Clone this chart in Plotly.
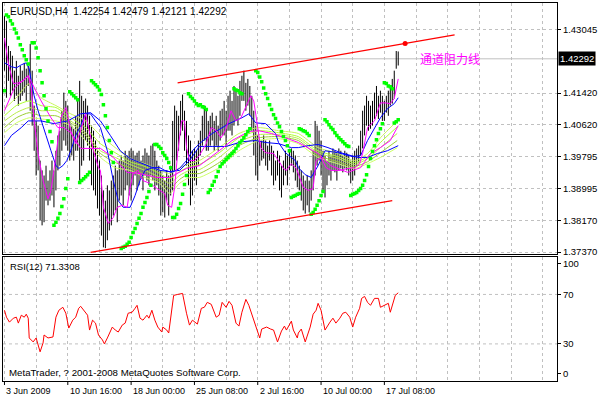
import plotly.graph_objects as go

# ---------------- data ----------------
# H4 bars, index 0..199 (3 Jun 2009 ... 17 Jul 2009)
bar_high = [
1.4338,1.4326,1.4262,1.4249,1.4237,1.4199,1.4224,1.4186,1.4211,1.4199,
1.4219,1.4204,1.4211,1.4267,1.4199,1.4110,1.4071,1.4059,1.3970,1.3945,
1.3932,1.3957,1.3919,1.3945,1.3970,1.3945,1.3995,1.4034,1.4046,1.4097,
1.4143,1.4122,1.4110,1.4071,1.4059,1.4051,1.4084,1.4122,1.4173,1.4135,
1.4122,1.4128,1.4110,1.4084,1.4059,1.4046,1.4021,1.3995,1.3970,1.3932,
1.3894,1.3868,1.3907,1.3894,1.3919,1.3932,1.3957,1.3945,1.3970,1.3983,
1.3970,1.3995,1.3983,1.3995,1.4001,1.3995,1.3983,1.3990,1.3995,1.3970,
1.3983,1.4001,1.3990,1.3983,1.4008,1.4013,1.3995,1.3970,1.3957,1.3945,
1.3932,1.3919,1.3945,1.3932,1.3957,1.4071,1.4110,1.4097,1.4084,1.4122,
1.4138,1.4097,1.4071,1.4034,1.4021,1.3995,1.4001,1.3995,1.4021,1.4046,
1.4084,1.4110,1.4097,1.4071,1.4084,1.4092,1.4071,1.4084,1.4059,1.4097,
1.4102,1.4122,1.4097,1.4135,1.4148,1.4122,1.4160,1.4148,1.4135,1.4173,
1.4186,1.4199,1.4168,1.4178,1.4160,1.4135,1.4097,1.4059,1.4034,1.4021,
1.4021,1.4034,1.4021,1.4008,1.4021,1.4008,1.3995,1.3970,1.3995,1.3983,
1.3957,1.3970,1.3995,1.3983,1.3995,1.4001,1.3995,1.3983,1.3970,1.3957,
1.3945,1.3932,1.3919,1.3932,1.3919,1.3945,1.3995,1.4071,1.4059,1.4046,
1.4021,1.3995,1.3983,1.3970,1.3995,1.3983,1.4001,1.3995,1.3990,1.4001,
1.3995,1.3983,1.3995,1.3990,1.3983,1.3970,1.3983,1.3995,1.4001,1.4008,
1.4046,1.4097,1.4110,1.4135,1.4122,1.4110,1.4122,1.4143,1.4160,1.4135,
1.4148,1.4135,1.4122,1.4135,1.4148,1.4160,1.4178,1.4199,1.4249,1.42479]
bar_low = [
1.4199,1.4130,1.4173,1.4135,1.4148,1.4122,1.4135,1.4110,1.4122,1.4135,
1.4143,1.4122,1.4160,1.4097,1.4059,1.3995,1.3932,1.3945,1.3818,1.3805,
1.3813,1.3868,1.3856,1.3868,1.3881,1.3851,1.3894,1.3945,1.3957,1.3995,
1.4021,1.4008,1.3995,1.3970,1.3983,1.3970,1.3995,1.3995,1.3919,1.3957,
1.3970,1.4021,1.4008,1.3970,1.3907,1.3894,1.3881,1.3848,1.3830,1.3779,
1.3749,1.3747,1.3767,1.3792,1.3805,1.3830,1.3843,1.3813,1.3868,1.3881,
1.3856,1.3894,1.3907,1.3881,1.3868,1.3907,1.3932,1.3894,1.3907,1.3924,
1.3894,1.3932,1.3919,1.3907,1.3932,1.3919,1.3894,1.3907,1.3881,1.3830,
1.3838,1.3825,1.3868,1.3830,1.3881,1.3894,1.3945,1.3970,1.3995,1.4034,
1.4046,1.3995,1.3957,1.3907,1.3856,1.3881,1.3919,1.3907,1.3957,1.3983,
1.4008,1.4021,1.3995,1.3995,1.4008,1.4021,1.3995,1.4008,1.3995,1.4021,
1.4034,1.4034,1.4008,1.4046,1.4046,1.4034,1.4059,1.4071,1.4059,1.4084,
1.4122,1.4122,1.4097,1.4110,1.4084,1.4046,1.3983,1.3932,1.3919,1.3957,
1.3970,1.3975,1.3957,1.3945,1.3970,1.3932,1.3907,1.3919,1.3932,1.3894,
1.3876,1.3907,1.3932,1.3907,1.3945,1.3957,1.3940,1.3919,1.3902,1.3894,
1.3868,1.3843,1.3835,1.3856,1.3838,1.3868,1.3894,1.3932,1.3957,1.3970,
1.3932,1.3894,1.3876,1.3907,1.3932,1.3919,1.3945,1.3940,1.3919,1.3945,
1.3950,1.3940,1.3950,1.3945,1.3932,1.3912,1.3919,1.3932,1.3957,1.3965,
1.3983,1.4001,1.4034,1.4059,1.4046,1.4051,1.4059,1.4076,1.4084,1.4076,
1.4092,1.4071,1.4071,1.4092,1.4084,1.4110,1.4115,1.4128,1.4204,1.42121]

# slow moving averages (yellow-green bundle)
g_idx = [0,6,12.5,18.5,26,33.5,41,48.5,56,63.5,71,78.5,83.5,88.5,93.5,98.5,108.5,118.5,128.5,138.5,148.5,158.5,168.5,177,183.5,190,198.5]
g1 = [1.4102,1.4130,1.4166,1.4130,1.4110,1.4089,1.4071,1.4034,1.4003,1.3975,1.3962,1.3945,1.3937,1.3952,1.3962,1.3970,1.4003,1.4039,1.4054,1.4046,1.4039,1.4003,1.3988,1.3970,1.3988,1.4028,1.4071]
g2 = [1.4084,1.4110,1.4122,1.4110,1.4105,1.4079,1.4054,1.4013,1.3990,1.3967,1.3955,1.3937,1.3924,1.3942,1.3955,1.3960,1.3990,1.4028,1.4046,1.4041,1.4031,1.3995,1.3980,1.3965,1.3980,1.4016,1.4056]
g3 = [1.4071,1.4092,1.4105,1.4097,1.4097,1.4071,1.4041,1.3995,1.3978,1.3960,1.3945,1.3927,1.3912,1.3932,1.3945,1.3947,1.3978,1.4018,1.4036,1.4036,1.4026,1.3990,1.3975,1.3960,1.3975,1.4003,1.4039]
g4 = [1.4054,1.4079,1.4092,1.4084,1.4084,1.4066,1.4034,1.3988,1.3965,1.3952,1.3935,1.3919,1.3899,1.3922,1.3937,1.3937,1.3965,1.4008,1.4028,1.4031,1.4021,1.3983,1.3967,1.3955,1.3967,1.3990,1.4021]
g5 = [1.4041,1.4066,1.4079,1.4076,1.4071,1.4059,1.4021,1.3978,1.3952,1.3945,1.3927,1.3912,1.3886,1.3912,1.3927,1.3927,1.3952,1.3995,1.4021,1.4026,1.4013,1.3978,1.3962,1.3950,1.3962,1.3978,1.4003]

# fast blue MA
b1_idx = [0,3.5,6,8.5,11,12.5,13.5,15,17,18.5,21,23.5,26,27.5,29.5,31.5,33.5,36,38.5,41,43.5,46,48.5,52,55,57.5,60,63.5,66,68.5,71,75,78.5,81,84.5,88.5,92,95,98.5,105,113.5,120,123.5,127,132,137,138.5,142,147,148.5,152,155,158.5,162,168.5,176,180,183.5,187,190,193.5,197,199]
b1 = [1.4219,1.4209,1.4206,1.4214,1.4219,1.4204,1.4173,1.4135,1.4097,1.4071,1.4034,1.3995,1.3957,1.3950,1.3957,1.3970,1.3995,1.4034,1.4059,1.4089,1.4089,1.4071,1.4054,1.3995,1.3919,1.3868,1.3851,1.3851,1.3881,1.3919,1.3945,1.3952,1.3952,1.3945,1.3940,1.3950,1.3970,1.3995,1.4013,1.4039,1.4064,1.4079,1.4089,1.4066,1.4064,1.4039,1.4016,1.3990,1.3970,1.3952,1.3934,1.3927,1.3957,1.3995,1.3990,1.3980,1.3983,1.4021,1.4054,1.4079,1.4102,1.4115,1.4130]
# slow blue MA
b2_idx = [0,3.5,8.5,12,18.5,25,32,38.5,43.5,48.5,53.5,58.5,63.5,68.5,73.5,78.5,83.5,88.5,93.5,98.5,105,112,120,127,132,138.5,145,148.5,153.5,158.5,163.5,170,178.5,183.5,188.5,193.5,199]
b2 = [1.4008,1.4034,1.4054,1.4071,1.4071,1.4064,1.4071,1.4089,1.4092,1.4071,1.4034,1.3995,1.3975,1.3965,1.3955,1.3945,1.3942,1.3945,1.3970,1.4006,1.4006,1.4006,1.4018,1.4021,1.4016,1.4013,1.4003,1.4003,1.4008,1.4011,1.4003,1.3990,1.3978,1.3978,1.3988,1.3995,1.4008]
# fast magenta MA
m1_idx = [0,2,4.5,7,9.5,12,13.5,15,17,19.5,22,23.5,25,27,28.5,31,33.5,36,38.5,41,42.5,45,47.5,48.5,50,52.5,55,57,59.5,62,63.5,65,67.5,70,73.5,76,78.5,81,82.5,84.5,86,87.5,89.5,91,92,93.5,96,98.5,102,104.5,107,109.5,112,114.5,117,119.5,122,124.5,126,127.5,129.5,132,134.5,136,138.5,141,142.5,145,147.5,148.5,151,153.5,156,157.5,160,162.5,165,170,173.5,177,179.5,181,183.5,187,190,192.5,195,197,199]
m1 = [1.4282,1.4216,1.4166,1.4168,1.4173,1.4186,1.4155,1.4071,1.3988,1.3919,1.3873,1.3894,1.3945,1.4028,1.4079,1.4105,1.4046,1.4013,1.4046,1.4089,1.4054,1.3995,1.3952,1.3945,1.3851,1.3810,1.3825,1.3851,1.3856,1.3851,1.3902,1.3937,1.3945,1.3919,1.3912,1.3902,1.3894,1.3886,1.3856,1.3851,1.3902,1.3988,1.4071,1.4071,1.4003,1.3970,1.3970,1.3983,1.4013,1.4054,1.4046,1.4028,1.4051,1.4097,1.4071,1.4079,1.4105,1.4135,1.4122,1.4071,1.4003,1.3990,1.3988,1.3988,1.3970,1.3950,1.3945,1.3962,1.3950,1.3937,1.3902,1.3894,1.3899,1.3970,1.3978,1.3952,1.3945,1.3945,1.3950,1.3952,1.3962,1.3988,1.4054,1.4071,1.4117,1.4117,1.4115,1.4128,1.4178]
# slow magenta MA
m2_idx = [0,5,12,15,18.5,23.5,27,30,33.5,38.5,42,48.5,55,62,68.5,77,83.5,92,98.5,103.5,108.5,115,123.5,128.5,135,142,148.5,158.5,165,173.5,180,185,190,195,199]
m2 = [1.4097,1.4155,1.4186,1.4155,1.4122,1.4079,1.4054,1.4054,1.4041,1.4001,1.4001,1.4001,1.3978,1.3940,1.3937,1.3927,1.3927,1.3950,1.3957,1.3975,1.3995,1.4021,1.4044,1.4046,1.4039,1.4028,1.4016,1.3988,1.3957,1.3940,1.3952,1.3988,1.4003,1.4021,1.4059]

# Parabolic SAR dots
sar_idx = ([0] + list(range(1, 13)) + list(range(14, 25)) + list(range(25, 33)) + list(range(33, 38))
           + list(range(38, 44)) + list(range(44, 56)) + list(range(59, 75)) + list(range(76, 85))
           + list(range(85, 93)) + list(range(93, 103)) + list(range(103, 125)) + list(range(116, 121))
           + list(range(127, 145)) + list(range(145, 150)) + list(range(149, 155)) + list(range(155, 162))
           + list(range(162, 175)) + list(range(175, 182)) + list(range(182, 192)) + list(range(192, 197))
           + list(range(197, 200)))
sar_val = [1.4148,
 1.4341,1.4336,1.4326,1.4318,1.4305,1.4295,1.4282,1.4265,1.4252,1.4237,1.4227,1.4216,
 1.4270,1.4270,1.4257,1.4232,1.4199,1.4168,1.4135,1.4102,1.4071,1.4044,1.4018,
 1.3805,1.3813,1.3823,1.3835,1.3853,1.3873,1.3899,1.3924,
 1.4145,1.4140,1.4135,1.4130,1.4125,
 1.3914,1.3919,1.3924,1.3929,1.3934,1.3940,
 1.4173,1.4168,1.4163,1.4158,1.4150,1.4138,1.4112,1.4084,1.4054,1.4021,1.3990,1.3965,
 1.3746,1.3749,1.3752,1.3757,1.3762,1.3774,1.3787,1.3797,1.3810,1.3823,1.3835,1.3851,1.3863,1.3876,1.3891,1.3907,
 1.4011,1.4011,1.4006,1.4001,1.3990,1.3983,1.3975,1.3965,1.3952,
 1.3825,1.3825,1.3833,1.3848,1.3861,1.3884,1.3909,1.3932,
 1.4140,1.4133,1.4128,1.4122,1.4115,1.4110,1.4112,1.4107,1.4105,1.4100,
 1.3889,1.3896,1.3907,1.3917,1.3929,1.3942,1.3955,1.3962,1.3967,1.3973,1.3978,1.3983,1.3988,1.3993,1.4001,1.4008,1.4016,1.4021,1.4028,1.4036,1.4044,1.4051,
 1.4153,1.4150,1.4148,1.4143,1.4140,
 1.4199,1.4194,1.4183,1.4171,1.4155,1.4140,1.4128,1.4112,1.4100,1.4087,1.4077,1.4066,1.4056,1.4044,1.4031,1.4021,1.4008,1.3995,
 1.3876,1.3879,1.3881,1.3884,1.3886,
 1.4051,1.4049,1.4046,1.4044,1.4039,1.4034,
 1.3833,1.3838,1.3846,1.3856,1.3868,1.3881,1.3891,
 1.4074,1.4069,1.4061,1.4054,1.4049,1.4041,1.4034,1.4028,1.4023,1.4018,1.4013,1.4008,1.4006,
 1.3881,1.3884,1.3886,1.3889,1.3894,1.3899,1.3907,
 1.3919,1.3934,1.3955,1.3975,1.3993,1.4008,1.4023,1.4039,1.4051,1.4064,
 1.4168,1.4166,1.4160,1.4158,1.4153,
 1.4066,1.4069,1.4074]

# channel (trend) lines
upper_idx = [87.5, 227.5]
upper_val = [1.4168, 1.4290]
upper_dot_idx = [202.5]
upper_dot_val = [1.4268]
lower_idx = [43.5, 196]
lower_val = [1.3736, 1.3868]

# RSI(12)
rsi_idx = [0,1,2.5,4.5,6,7,8.5,10,11,12,12.5,14.5,16,17,18,19.5,20,22,24.5,26,27.5,29.5,31,32.5,34.5,36,37.5,38.5,40,42,43,44.5,46,47.5,49.5,50.5,52,54.5,56,57.5,59.5,61,62.5,64.5,66,67,68.5,70,72,73,74.5,76,77.5,79.5,80,82,83,84.5,85.5,87.5,90,92,93.5,95,97.5,99.5,101,102.5,104.5,107,108.5,110,112,113.5,115,117,118.5,120,122,123.5,125,127,129,130,132.5,134.5,136,138,140,141.5,142.5,145,146,148,148.5,150,152,154.5,156,157.5,158.5,160,162,164.5,166,167.5,169.5,171,172.5,174.5,176,177.5,179.5,180.5,182,183.5,185,187,189,190,192,194,195,196.5,197.5,199]
rsi_val = [57.2,51.6,47.6,50.8,51.6,46.8,53.2,51.6,54.0,50.8,34.8,31.6,34.8,29.2,23.6,30.8,37.2,34.8,35.6,51.6,57.2,59.6,54.8,42.8,49.2,51.6,58.8,60.4,57.2,53.2,41.2,49.2,46.8,37.2,33.2,30.0,34.8,43.6,41.2,39.6,45.2,46.8,54.8,55.6,58.8,61.2,50.8,49.2,53.2,50.8,57.2,49.2,43.6,39.6,43.6,41.2,38.8,54.8,69.2,70.0,70.8,54.8,45.2,49.2,46.0,58.8,59.6,63.6,62.0,51.6,53.2,63.6,59.6,64.4,61.2,46.8,44.4,55.6,66.0,61.2,54.0,43.6,34.8,42.0,43.6,42.0,41.2,31.6,40.4,44.4,41.2,48.4,41.2,34.8,38.8,42.0,31.6,43.6,54.0,57.2,62.8,57.2,41.2,47.6,50.8,46.8,50.8,54.8,55.6,51.6,43.6,51.6,58.8,66.8,68.4,63.6,61.2,66.8,66.8,59.6,61.2,62.8,55.6,65.2,69.2,71.3308]

# axis labels
time_label_idx = [0, 32, 64, 96, 128, 160, 192]
time_labels = ["3 Jun 2009", "10 Jun 16:00", "18 Jun 00:00", "25 Jun 08:00",
               "2 Jul 16:00", "10 Jul 00:00", "17 Jul 08:00"]
grid_idx = [0, 16, 32, 48, 64, 80, 96, 112, 128, 144, 160, 176, 192, 208, 224, 240, 256, 272]
price_ticks = [1.43045, 1.41420, 1.40620, 1.39795, 1.38995, 1.38170, 1.37370]
price_tick_text = ["1.43045", "1.41420", "1.40620", "1.39795", "1.38995", "1.38170", "1.37370"]
rsi_ticks = [94.8, 70, 30, 6]
rsi_tick_text = ["100", "70", "30", "0"]
rsi_levels = [70, 30]
last_price = 1.42292
header = "EURUSD,H4\u00a0\u00a01.42254 1.42479 1.42121 1.42292"
rsi_header = "RSI(12) 71.3308"
copyright_text = "MetaTrader, ? 2001-2008 MetaQuotes Software Corp."
note_text = "通道阻力线"

# ---------------- figure ----------------
FONT = "Liberation Sans, Arial, sans-serif"
GRID = "#c0c0c0"
DASH = "3px,3px"

fig = go.Figure()

bx, by = [], []
for i, (h, l) in enumerate(zip(bar_high, bar_low)):
    bx += [i, i, None]
    by += [l, h, None]
fig.add_trace(go.Scatter(x=bx, y=by, mode="lines", line=dict(color="black", width=1),
                         xaxis="x", yaxis="y", hoverinfo="skip"))

g_colors = ["#c8f55c", "#adff2f", "#b8ec48", "#9acd32", "#ccff66"]
for g, c in zip([g1, g2, g3, g4, g5], g_colors):
    fig.add_trace(go.Scatter(x=g_idx, y=g, mode="lines", line=dict(color=c, width=1, shape="spline", smoothing=0.6),
                             xaxis="x", yaxis="y", hoverinfo="skip"))
fig.add_trace(go.Scatter(x=b2_idx, y=b2, mode="lines", line=dict(color="#0000ff", width=1),
                         xaxis="x", yaxis="y", hoverinfo="skip"))
fig.add_trace(go.Scatter(x=b1_idx, y=b1, mode="lines", line=dict(color="#0000ff", width=1),
                         xaxis="x", yaxis="y", hoverinfo="skip"))
fig.add_trace(go.Scatter(x=m2_idx, y=m2, mode="lines", line=dict(color="#ff00ff", width=1),
                         xaxis="x", yaxis="y", hoverinfo="skip"))
fig.add_trace(go.Scatter(x=m1_idx, y=m1, mode="lines", line=dict(color="#ff00ff", width=1),
                         xaxis="x", yaxis="y", hoverinfo="skip"))
fig.add_trace(go.Scatter(x=sar_idx, y=sar_val, mode="markers",
                         marker=dict(symbol="square", size=3.5, color="#00ff00", line=dict(width=0)),
                         xaxis="x", yaxis="y", hoverinfo="skip"))
fig.add_trace(go.Scatter(x=upper_idx, y=upper_val, mode="lines", line=dict(color="#ff0000", width=1.2),
                         xaxis="x", yaxis="y", hoverinfo="skip"))
fig.add_trace(go.Scatter(x=upper_dot_idx, y=upper_dot_val, mode="markers",
                         marker=dict(symbol="circle", size=5, color="#ff0000"),
                         xaxis="x", yaxis="y", hoverinfo="skip"))
fig.add_trace(go.Scatter(x=lower_idx, y=lower_val, mode="lines", line=dict(color="#ff0000", width=1.2),
                         xaxis="x", yaxis="y", hoverinfo="skip"))
fig.add_trace(go.Scatter(x=rsi_idx, y=rsi_val, mode="lines", line=dict(color="#ff0000", width=1),
                         xaxis="x2", yaxis="y2", hoverinfo="skip"))

W, H = 599, 398
ml, mr, mt, mb = 2, 37, 2, 17
ph = H - mt - mb  # 379
main_bottom = (381 - 253.5) / ph
rsi_top = (381 - 257) / ph

xcommon = dict(range=[-0.75, 279.25], showline=True, mirror=True, linecolor="black", linewidth=1,
               tickvals=grid_idx, showticklabels=False, ticks="", showgrid=True, gridcolor=GRID,
               griddash=DASH, gridwidth=1, zeroline=False, fixedrange=True)

fig.update_layout(
    width=W, height=H, margin=dict(l=ml, r=mr, t=mt, b=mb, pad=0),
    paper_bgcolor="white", plot_bgcolor="white", showlegend=False, hovermode=False,
    font=dict(family=FONT, size=9.7, color="black"),
    xaxis=dict(anchor="y", domain=[0, 1], **xcommon),
    xaxis2=dict(anchor="y2", domain=[0, 1], matches="x", **xcommon),
    yaxis=dict(anchor="x", domain=[main_bottom, 1], range=[1.37325, 1.43713], side="right",
               tickvals=price_ticks, ticktext=price_tick_text, ticks="outside", ticklen=3,
               tickcolor="black", showgrid=True, gridcolor=GRID, griddash=DASH,
               showline=True, mirror=True, linecolor="black", linewidth=1, zeroline=False,
               tickfont=dict(family=FONT, size=9.5, color="black"), fixedrange=True),
    yaxis2=dict(anchor="x2", domain=[0, rsi_top], range=[0, 100], side="right",
                tickvals=rsi_ticks, ticktext=rsi_tick_text, ticks="outside", ticklen=3,
                tickcolor="black", showgrid=False, showline=True, mirror=True,
                linecolor="black", linewidth=1, zeroline=False,
                tickfont=dict(family=FONT, size=9.5, color="black"), fixedrange=True),
)

shapes = [
    dict(type="line", xref="x domain", x0=0, x1=1, yref="y", y0=last_price, y1=last_price,
         line=dict(color=GRID, width=1), layer="below"),
]
for lv in rsi_levels:
    shapes.append(dict(type="line", xref="x2 domain", x0=0, x1=1, yref="y2", y0=lv, y1=lv,
                       line=dict(color=GRID, width=1, dash=DASH), layer="below"))
for k in time_label_idx:
    shapes.append(dict(type="line", xref="x2", x0=k, x1=k, yref="paper", y0=0, y1=-4 / ph,
                       line=dict(color="black", width=1)))
fig.update_layout(shapes=shapes)

ann = [
    dict(text=header, xref="paper", yref="paper", x=(7 - ml) / 560, y=(381 - 11) / ph,
         xanchor="left", yanchor="middle", showarrow=False, font=dict(size=10)),
    dict(text=rsi_header, xref="paper", yref="paper", x=(7 - ml) / 560, y=(381 - 266.5) / ph,
         xanchor="left", yanchor="middle", showarrow=False, font=dict(size=9.5)),
    dict(text=copyright_text, xref="paper", yref="paper", x=(6 - ml) / 560, y=(381 - 372.5) / ph,
         xanchor="left", yanchor="middle", showarrow=False, font=dict(size=9.7)),
    dict(text=note_text, xref="x", yref="y", x=208.75, y=1.4229, xanchor="left", yanchor="middle",
         showarrow=False, font=dict(family="Noto Sans CJK SC", size=12, color="#ff00ff")),
    dict(text=f"{last_price:.5f}", xref="paper", yref="y", x=(563 - ml) / 560, y=last_price,
         xanchor="left", yanchor="middle", showarrow=False, bgcolor="black", borderpad=1,
         font=dict(size=9.5, color="white")),
]
for k, t in zip(time_label_idx, time_labels):
    ann.append(dict(text=t, xref="x2", yref="paper", x=k, y=(381 - 391) / ph,
                    xanchor="left", yanchor="middle", showarrow=False, font=dict(size=9)))
fig.update_layout(annotations=ann)

fig.write_html("out.html", config={"displayModeBar": False},
               post_script="document.body.style.margin='0px';document.body.style.padding='0px';document.body.style.overflow='hidden';")
